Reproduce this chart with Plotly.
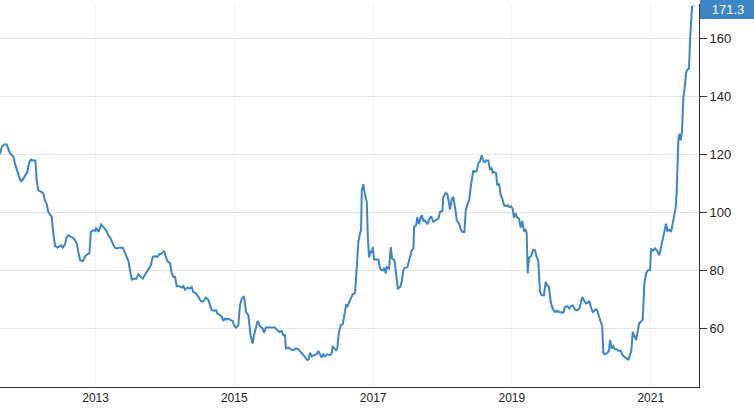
import datetime as dt
import plotly.graph_objects as go

# decimal-year positions of traced points and their values
years = [
2011.624,2011.648,2011.682,2011.721,2011.744,2011.768,2011.793,2011.816,2011.840,2011.865,
2011.888,2011.912,2011.937,2011.960,2011.984,2012.017,2012.046,2012.071,2012.104,2012.133,
2012.153,2012.176,2012.225,2012.248,2012.272,2012.297,2012.320,2012.344,2012.369,2012.392,
2012.417,2012.450,2012.478,2012.503,2012.527,2012.561,2012.585,2012.608,2012.643,2012.672,
2012.705,2012.729,2012.752,2012.777,2012.816,2012.849,2012.882,2012.911,2012.931,2012.960,
2012.993,2013.007,2013.041,2013.079,2013.113,2013.151,2013.185,2013.219,2013.257,2013.281,
2013.306,2013.343,2013.392,2013.425,2013.450,2013.473,2013.497,2013.522,2013.555,2013.584,
2013.617,2013.651,2013.680,2013.699,2013.728,2013.761,2013.796,2013.824,2013.858,2013.891,
2013.920,2013.954,2013.987,2014.012,2014.035,2014.074,2014.098,2014.121,2014.146,2014.170,
2014.208,2014.242,2014.265,2014.290,2014.323,2014.362,2014.386,2014.409,2014.448,2014.482,
2014.516,2014.545,2014.564,2014.592,2014.626,2014.650,2014.675,2014.708,2014.737,2014.755,
2014.784,2014.819,2014.842,2014.866,2014.891,2014.914,2014.948,2014.977,2014.996,2015.025,
2015.058,2015.082,2015.107,2015.140,2015.169,2015.202,2015.237,2015.265,2015.284,2015.313,
2015.337,2015.371,2015.409,2015.428,2015.457,2015.490,2015.539,2015.587,2015.611,2015.649,
2015.683,2015.706,2015.731,2015.745,2015.779,2015.813,2015.851,2015.889,2015.923,2015.957,
2015.986,2016.019,2016.052,2016.072,2016.091,2016.116,2016.149,2016.188,2016.211,2016.235,
2016.260,2016.283,2016.307,2016.340,2016.379,2016.404,2016.418,2016.441,2016.466,2016.484,
2016.505,2016.533,2016.562,2016.581,2016.610,2016.629,2016.657,2016.678,2016.706,2016.740,
2016.764,2016.787,2016.812,2016.826,2016.836,2016.859,2016.874,2016.894,2016.908,2016.923,
2016.941,2016.966,2016.980,2016.995,2017.013,2017.042,2017.075,2017.100,2017.124,2017.147,
2017.162,2017.182,2017.196,2017.229,2017.254,2017.273,2017.306,2017.330,2017.355,2017.388,
2017.412,2017.436,2017.460,2017.493,2017.522,2017.557,2017.580,2017.590,2017.619,2017.637,
2017.662,2017.676,2017.701,2017.724,2017.748,2017.781,2017.806,2017.835,2017.868,2017.907,
2017.940,2017.964,2017.998,2018.012,2018.047,2018.070,2018.094,2018.109,2018.133,2018.156,
2018.191,2018.205,2018.238,2018.263,2018.286,2018.315,2018.335,2018.358,2018.387,2018.407,
2018.430,2018.444,2018.469,2018.493,2018.516,2018.541,2018.565,2018.580,2018.603,2018.627,
2018.660,2018.685,2018.709,2018.724,2018.743,2018.771,2018.790,2018.815,2018.839,2018.862,
2018.887,2018.915,2018.940,2018.963,2018.988,2019.012,2019.031,2019.055,2019.078,2019.103,
2019.127,2019.150,2019.175,2019.199,2019.214,2019.228,2019.247,2019.276,2019.309,2019.333,
2019.358,2019.381,2019.405,2019.430,2019.463,2019.488,2019.511,2019.535,2019.560,2019.588,
2019.622,2019.655,2019.684,2019.718,2019.741,2019.766,2019.799,2019.828,2019.852,2019.877,
2019.910,2019.943,2019.972,2019.992,2020.015,2020.044,2020.068,2020.093,2020.116,2020.140,
2020.165,2020.188,2020.212,2020.231,2020.256,2020.280,2020.303,2020.318,2020.342,2020.375,
2020.400,2020.414,2020.439,2020.462,2020.486,2020.511,2020.534,2020.568,2020.597,2020.630,
2020.655,2020.678,2020.702,2020.721,2020.741,2020.764,2020.789,2020.808,2020.832,2020.856,
2020.885,2020.908,2020.933,2020.957,2020.991,2021.005,2021.029,2021.063,2021.087,2021.124,
2021.159,2021.182,2021.221,2021.240,2021.268,2021.293,2021.317,2021.336,2021.361,2021.375,
2021.398,2021.413,2021.433,2021.452,2021.470,2021.485,2021.509,2021.528,2021.552,2021.567,
2021.581,2021.596]

values = [
120.1,122.6,123.5,123.5,122.0,120.5,119.8,119.4,116.9,115.2,
113.4,111.4,110.8,111.7,112.9,114.0,117.4,118.3,118.0,118.0,
111.1,107.7,107.1,106.6,104.2,102.9,100.2,99.1,98.5,92.8,
88.4,87.9,88.4,88.7,87.9,89.1,91.6,92.2,91.6,91.4,
90.4,89.3,86.4,83.6,83.2,84.9,85.6,85.9,93.3,93.9,
93.7,94.8,93.3,95.9,95.0,93.9,92.2,91.0,88.7,87.9,
87.6,87.9,87.9,85.9,84.1,83.3,80.1,76.9,77.2,77.2,
78.7,77.8,77.2,78.0,79.2,80.3,81.8,84.7,84.9,84.7,
85.6,85.9,86.8,84.9,83.3,82.4,79.0,77.8,77.8,74.6,
74.6,74.1,74.6,73.4,74.1,73.8,74.3,72.6,72.1,70.9,
69.5,69.2,69.8,70.7,69.8,68.0,66.3,66.1,66.3,65.2,
64.6,64.2,62.6,63.4,63.1,63.4,62.9,62.6,61.1,60.3,
61.1,68.0,70.3,71.1,65.7,64.6,57.3,54.8,57.7,60.0,
62.6,60.8,60.0,58.5,60.3,60.3,60.3,60.3,59.7,58.8,
59.2,57.7,57.7,53.1,53.4,52.8,52.5,53.1,52.8,51.9,
51.4,50.2,49.1,49.3,51.6,50.4,50.8,51.1,52.2,50.8,
50.0,51.1,50.4,51.1,50.8,51.4,53.9,53.1,52.5,53.1,
58.3,61.1,61.5,64.0,68.0,67.7,69.2,70.3,71.8,72.3,
83.6,89.9,93.0,93.9,107.7,109.8,107.1,104.2,103.7,91.6,
84.5,86.8,86.1,88.1,83.8,83.8,83.8,80.7,80.1,80.1,
81.0,79.0,81.2,80.7,88.1,84.1,83.6,79.0,73.8,74.3,
76.1,80.3,80.9,81.2,83.6,87.0,87.6,95.0,95.6,98.3,
96.0,97.6,99.1,97.1,97.3,96.0,97.6,98.7,96.8,97.3,
97.9,100.2,100.6,105.4,106.8,106.3,103.7,101.0,104.8,105.2,
100.2,97.3,96.2,94.1,93.3,93.3,100.8,102.5,104.8,108.8,
113.7,114.6,114.0,114.3,116.9,117.8,119.8,118.3,117.4,118.0,
118.0,114.8,115.5,113.7,114.0,113.7,109.4,110.0,106.0,104.8,
102.5,102.2,102.5,101.9,102.2,101.4,98.3,99.7,98.3,97.9,
94.8,97.1,93.7,94.1,92.8,79.0,84.5,84.9,87.2,87.0,
84.7,83.3,72.6,71.5,71.5,76.1,74.9,74.3,69.2,66.9,
65.7,66.1,65.7,65.4,65.4,67.4,67.7,66.9,67.7,68.0,
66.6,66.3,66.9,68.6,70.9,69.5,68.6,68.8,69.5,67.4,
65.7,66.1,66.6,66.1,64.0,61.7,60.6,51.6,51.1,51.6,
52.3,56.0,53.1,53.9,52.8,52.8,52.3,52.3,50.8,50.0,
49.7,49.3,50.8,52.5,58.8,57.1,56.0,58.3,61.7,62.3,
63.1,75.5,79.0,80.1,80.3,87.6,86.8,87.6,87.0,85.3,
89.3,92.8,96.2,93.7,94.1,93.3,96.2,99.1,101.9,107.7,
124.9,127.2,124.9,128.4,139.9,142.2,148.0,149.3,149.7,159.4,
166.3,171.3]

y_ticks = [60, 80, 100, 120, 140, 160]
x_start, x_end = 2011.624, 2021.696
y_min, y_max = 39.8, 172.0
LINE = "#3a86c8"


def to_date(t):
    yr = int(t)
    a = dt.datetime(yr, 1, 1)
    b = dt.datetime(yr + 1, 1, 1)
    return a + (b - a) * (t - yr)


dates = [to_date(t) for t in years]
last_val = values[-1]

fig = go.Figure()
fig.add_trace(go.Scatter(x=dates, y=values, mode="lines",
                         line=dict(color=LINE, width=2), hoverinfo="skip"))

# dotted last-value guide
fig.add_shape(type="line", xref="x", yref="y",
              x0=dates[-1], x1=to_date(x_end), y0=last_val, y1=last_val,
              line=dict(color="#8fb8e0", width=1, dash="dot"))

fig.add_annotation(xref="paper", yref="y", x=1, y=last_val, xanchor="left",
                   yanchor="middle", xshift=1, yshift=-3,
                   text=f"{last_val:.1f}", showarrow=False,
                   bgcolor="#3d86c6", bordercolor="#3d86c6", borderpad=2,
                   width=50, height=14,
                   font=dict(color="white", size=13, family="Liberation Sans"))

fig.update_layout(
    width=754, height=409,
    margin=dict(l=0, r=55, t=4, b=22, autoexpand=False),
    paper_bgcolor="white", plot_bgcolor="white",
    showlegend=False,
    font=dict(family="Liberation Sans", size=12, color="#222"),
    xaxis=dict(
        type="date",
        range=[to_date(x_start), to_date(x_end)],
        tick0="2013-01-01", dtick="M24", tickformat="%Y",
        showgrid=True, gridcolor="#edf2f6", gridwidth=1,
        showline=True, linecolor="#333", linewidth=1,
        ticks="", zeroline=False, automargin=False,
        tickfont=dict(size=12, color="#222"),
    ),
    yaxis=dict(
        side="right",
        range=[y_min, y_max],
        tickvals=y_ticks,
        showgrid=True, gridcolor="#e6e6e6", gridwidth=1,
        showline=True, linecolor="#333", linewidth=1,
        ticks="outside", ticklen=7, tickcolor="#333",
        zeroline=False, automargin=False,
        tickfont=dict(size=13, color="#222"),
    ),
)

fig.write_html("out.html",
               config={"displayModeBar": False},
               post_script="document.body.style.margin='0';document.body.style.padding='0';")
